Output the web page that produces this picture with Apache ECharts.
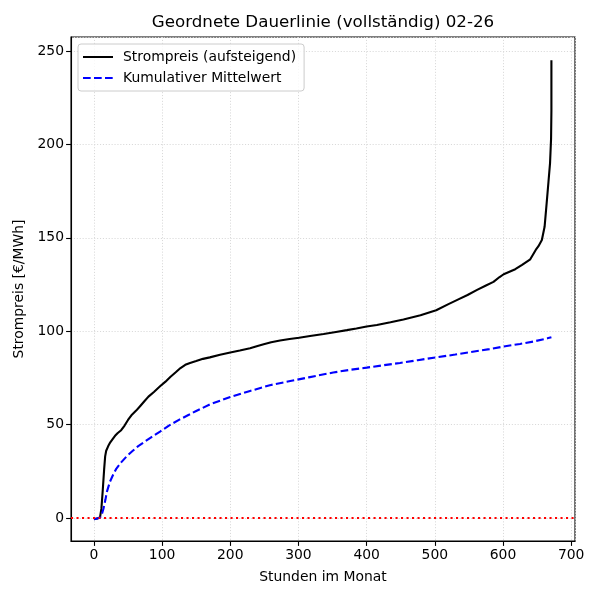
<!DOCTYPE html>
<html>
<head>
<meta charset="utf-8">
<script src="https://cdn.jsdelivr.net/npm/echarts@6/dist/echarts.min.js"></script>
<style>
  html, body { margin: 0; padding: 0; background: #fff; }
  #chart { width: 600px; height: 600px; }
</style>
</head>
<body>
<div id="chart"></div>
<script>
// Stunden (sortiert) und Strompreis
var priceHours = [0, 5, 9, 11, 13, 15, 16.5, 18, 21, 24, 28, 31, 35, 40, 45, 50, 55, 62, 68, 74, 80, 88, 97, 105, 112, 120, 127, 134, 141, 150, 160, 170, 185, 200, 214, 229, 240, 249, 260, 273, 287, 301, 317, 337, 355, 371, 385, 400, 415, 435, 454, 479, 502, 520, 533, 548, 562, 575, 586, 595, 601, 618, 628, 640, 648, 652, 657, 661, 664, 666.7, 669, 670.5, 671, 671];
var priceValues = [-0.7, -0.3, 0.5, 5, 15, 26, 33, 36, 38.5, 40.5, 42.5, 44, 45.5, 47, 49.5, 52.5, 55, 57.5, 60, 62.5, 65, 67.5, 70.5, 73, 75.5, 78, 80.3, 82, 83, 84, 85.2, 86, 87.4, 88.6, 89.7, 90.9, 92.1, 93, 94.1, 95, 95.8, 96.5, 97.4, 98.5, 99.6, 100.6, 101.5, 102.5, 103.3, 104.8, 106.3, 108.5, 111.2, 114.5, 116.8, 119.4, 122.1, 124.5, 126.4, 129, 130.5, 133.2, 135.5, 138.5, 143.5, 145.5, 148.8, 155.9, 168.4, 180, 190, 203, 218, 245];

// kumulativer Mittelwert
var meanHours = [0, 9, 12, 14, 17, 19, 23.5, 28, 33, 40, 48, 57, 65, 75, 85, 97, 110, 126, 140, 150, 170, 200, 229, 258, 288, 315, 351, 375, 400, 425, 449, 475, 502, 530, 560, 580, 601, 625, 645, 665, 671];
var meanValues = [-0.7, 0.2, 2.5, 5, 10, 14, 19.4, 23, 26.5, 29.8, 33, 36, 38.5, 41, 43.5, 46.3, 49.5, 52.8, 55.4, 57.3, 60.8, 64.8, 68, 71.1, 73.3, 75.3, 77.9, 79.3, 80.5, 81.8, 83, 84.5, 86, 87.5, 89.3, 90.4, 91.8, 93.2, 94.5, 96.2, 96.8];

var seriesNames = ['Strompreis (aufsteigend)', 'Kumulativer Mittelwert'];

var FONT = 'DejaVu Sans';
var myChart = echarts.init(document.getElementById('chart'));

function pairs(xs, ys) {
	return xs.map(function (x, i) { return [x, ys[i]]; });
}

var options = {
	animation: false,
	backgroundColor: '#fff',
	textStyle: { fontFamily: FONT },
	graphic: [{
		type: 'text',
		x: 323,
		y: 23,
		style: {
			text: 'Geordnete Dauerlinie (vollständig) 02-26',
			font: '16.7px "DejaVu Sans"',
			fill: '#000',
			align: 'center',
			verticalAlign: 'middle'
		}
	}],
	grid: {
		left: 71, right: 25, top: 37, bottom: 59,
		show: true,
		borderColor: '#000',
		borderWidth: 1.1,
		backgroundColor: 'transparent'
	},
	legend: {
		orient: 'vertical',
		left: 78,
		top: 44,
		data: seriesNames,
		backgroundColor: 'rgba(255,255,255,0.8)',
		borderColor: '#cccccc',
		borderWidth: 1,
		borderRadius: 3,
		padding: [6, 8, 6, 4],
		itemGap: 7,
		itemWidth: 30,
		itemHeight: 14,
		itemStyle: { opacity: 0 }, // nur die Linie zeigen, keinen Punkt
		textStyle: { fontFamily: FONT, fontSize: 13.9, color: '#000', padding: [0, 0, 0, 5] }
	},
	xAxis: {
		type: 'value',
		min: -33.6,
		max: 705.6,
		splitNumber: 7,
		name: 'Stunden im Monat',
		nameLocation: 'middle',
		nameGap: 29,
		nameTextStyle: { fontFamily: FONT, fontSize: 13.9, color: '#000' },
		axisLine: { show: true, onZero: false, lineStyle: { color: '#000', width: 1.1 } },
		axisTick: { show: true, length: 4.9, lineStyle: { color: '#000', width: 1.1 } },
		axisLabel: { showMinLabel: false, showMaxLabel: false, margin: 7, fontFamily: FONT, fontSize: 13.9, color: '#000' },
		splitLine: { show: true, lineStyle: { color: '#d9d9d9', width: 1, type: [1.1, 1.8] } }
	},
	yAxis: {
		type: 'value',
		min: -12.3,
		max: 257.5,
		splitNumber: 5,
		name: 'Strompreis [€/MWh]',
		nameLocation: 'middle',
		nameGap: 43,
		nameTextStyle: { fontFamily: FONT, fontSize: 13.9, color: '#000' },
		axisLine: { show: true, onZero: false, lineStyle: { color: '#000', width: 1.1 } },
		axisTick: { show: true, length: 4.9, lineStyle: { color: '#000', width: 1.1 } },
		axisLabel: { showMinLabel: false, showMaxLabel: false, margin: 7, fontFamily: FONT, fontSize: 13.9, color: '#000' },
		splitLine: { show: true, lineStyle: { color: '#d9d9d9', width: 1, type: [1.1, 1.8] } }
	},
	series: [{
		name: seriesNames[0],
		type: 'line',
		data: pairs(priceHours, priceValues),
		symbol: 'none',
		lineStyle: { color: '#000', width: 2.1 },
		itemStyle: { color: '#000' },
		z: 3
	}, {
		name: seriesNames[1],
		type: 'line',
		data: pairs(meanHours, meanValues),
		symbol: 'none',
		lineStyle: { color: '#0000ff', width: 2.1, type: [7.7, 3.3] },
		itemStyle: { color: '#0000ff' },
		z: 4,
		markLine: {
			silent: true,
			symbol: 'none',
			label: { show: false },
			lineStyle: { color: '#ff0000', width: 2.1, type: [2.1, 3.4] },
			data: [{ yAxis: 0 }]
		}
	}]
};
myChart.setOption(options);
</script>
</body>
</html>
